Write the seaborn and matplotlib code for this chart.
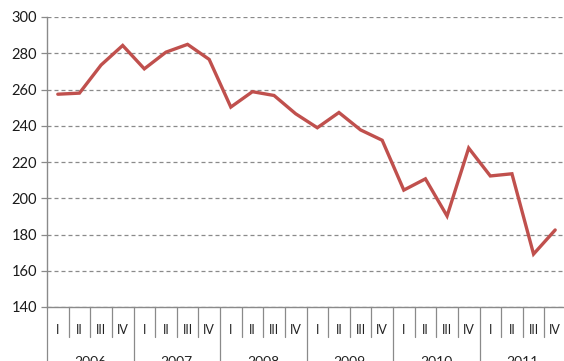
import matplotlib
matplotlib.use("Agg")
import matplotlib.pyplot as plt
import matplotlib.transforms as mtransforms
import seaborn as sns
import pandas as pd

years = ["2006", "2007", "2008", "2009", "2010", "2011"]
quarters = ["I", "II", "III", "IV"]
values = [257.4, 258.0, 273.5, 284.3, 271.4, 280.6, 284.9, 276.6,
          250.3, 258.8, 256.7, 246.6, 238.9, 247.3, 237.7, 232.0,
          204.5, 210.7, 190.2, 227.7, 212.3, 213.5, 169.2, 182.5]
y_ticks = [140, 160, 180, 200, 220, 240, 260, 280, 300]

df = pd.DataFrame({
    "pos": list(range(len(values))),
    "value": values,
})

sns.set_style("white")
plt.rcParams["font.family"] = ["Lato", "DejaVu Sans"]

W, H = 564, 361
fig = plt.figure(figsize=(W / 100, H / 100), dpi=100)
left_px, right_px, top_px, bottom_px = 47, 566, 17, 307
ax = fig.add_axes([left_px / W, 1 - bottom_px / H,
                   (right_px - left_px) / W, (bottom_px - top_px) / H])

sns.lineplot(data=df, x="pos", y="value", ax=ax, color="#C0504D",
             linewidth=2.4, solid_joinstyle="miter")

ax.set_xlim(-0.5, len(values) - 0.5)
ax.set_ylim(140, 300)
ax.set_yticks(y_ticks)
ax.set_yticklabels([str(t) for t in y_ticks], fontsize=10.5, color="#1a1a1a")
ax.set_xticks([])
ax.set_xlabel("")
ax.set_ylabel("")

ax.yaxis.grid(True, linestyle=(0, (3.2, 2.4)), color="#8a8a8a", linewidth=0.9)
ax.set_axisbelow(True)
ax.tick_params(axis="y", which="both", left=True, length=4, width=0.9,
               color="#8a8a8a", pad=3)

for s in ["top", "right"]:
    ax.spines[s].set_visible(False)
for s in ["left", "bottom"]:
    ax.spines[s].set_color("#8a8a8a")
    ax.spines[s].set_linewidth(1.0)

# Two-level category axis: quarter labels and year groups with separators
trans = mtransforms.blended_transform_factory(ax.transData, ax.transAxes)
plot_h = bottom_px - top_px
q_sep = 30 / plot_h
y_sep = 60 / plot_h
n = len(values)
for k in range(n + 1):
    depth = y_sep if k % 4 == 0 else q_sep
    ax.plot([k - 0.5, k - 0.5], [0, -depth], transform=trans,
            color="#8a8a8a", linewidth=0.9, clip_on=False)

for i in range(n):
    ax.text(i, -23 / plot_h, quarters[i % 4], transform=trans,
            ha="center", va="center", fontsize=9, color="#222222")

for j, yr in enumerate(years):
    ax.text(j * 4 + 1.5, -55 / plot_h, yr, transform=trans,
            ha="center", va="center", fontsize=10, color="#222222")

fig.savefig("out.png", dpi=100)
